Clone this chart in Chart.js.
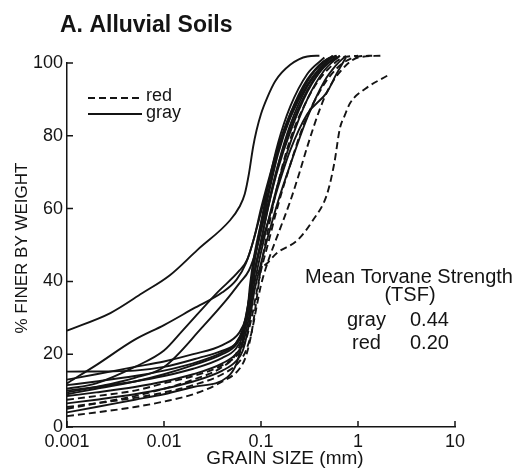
<!DOCTYPE html>
<html>
<head>
<meta charset="utf-8">
<script src="https://cdn.jsdelivr.net/npm/chart.js@4/dist/chart.umd.min.js"></script>
<style>
  html, body { margin: 0; padding: 0; background: #fff; }
  canvas { display: block; }
</style>
</head>
<body>
<canvas id="grainChart" width="519" height="473"></canvas>
<script>
const xTickValues = [0.001, 0.01, 0.1, 1, 10];
const xTickLabels = ["0.001", "0.01", "0.1", "1", "10"];
const yTickValues = [0, 20, 40, 60, 80, 100];
const yTickLabels = ["0", "20", "40", "60", "80", "100"];

// grain size (mm), percent finer
const gray1 = [[0.001, 26.5], [0.0028, 31.3], [0.006, 36.8], [0.0115, 41.7], [0.022, 48.6], [0.048, 56.8], [0.06, 60.5], [0.068, 64], [0.075, 69.5], [0.083, 77], [0.09, 81.5], [0.1, 86], [0.116, 90.5], [0.14, 95], [0.2, 99.5], [0.3, 101.8], [0.4, 102]];
const gray2 = [[0.001, 12], [0.002, 17], [0.005, 24], [0.01, 28], [0.02, 32.5], [0.04, 37], [0.056, 40.5], [0.07, 45], [0.085, 52], [0.1, 60], [0.12, 68], [0.15, 77], [0.2, 86], [0.3, 95], [0.4, 99.5], [0.55, 102]];
const gray3 = [[0.001, 10.5], [0.002, 12], [0.005, 16.5], [0.01, 21], [0.0157, 26.6], [0.035, 36.8], [0.06, 43], [0.072, 46], [0.085, 52], [0.1, 59], [0.12, 67], [0.15, 76], [0.2, 85], [0.3, 94], [0.4, 98.5], [0.55, 102]];
const gray4 = [[0.001, 9.5], [0.002, 11], [0.005, 13.5], [0.01, 16.5], [0.025, 27.5], [0.044, 34.9], [0.06, 39.5], [0.075, 43], [0.09, 49], [0.1, 54], [0.12, 62], [0.15, 72], [0.2, 82], [0.3, 92.5], [0.4, 97.5], [0.6, 102]];
const gray5 = [[0.001, 15.2], [0.005, 15.5], [0.01, 16.5], [0.023, 19], [0.04, 21], [0.055, 23], [0.065, 26.5], [0.075, 33], [0.085, 42], [0.1, 51], [0.12, 61], [0.15, 72], [0.2, 83], [0.3, 93.5], [0.4, 98], [0.55, 101.8]];
const gray6 = [[0.001, 11.5], [0.002, 12.5], [0.005, 14], [0.01, 15.5], [0.02, 17.5], [0.04, 20.5], [0.055, 23], [0.065, 27], [0.075, 35], [0.085, 45], [0.1, 54], [0.12, 64], [0.15, 75], [0.2, 85], [0.3, 95], [0.45, 100.5], [0.6, 102]];
const gray7 = [[0.001, 10], [0.002, 11], [0.005, 12.5], [0.01, 14], [0.02, 16], [0.04, 19], [0.055, 21.5], [0.065, 25], [0.075, 32], [0.085, 42], [0.1, 51], [0.12, 61], [0.15, 71], [0.2, 81], [0.3, 92], [0.45, 99], [0.65, 102]];
const gray8 = [[0.001, 8.5], [0.002, 9.5], [0.005, 11], [0.01, 12.5], [0.02, 14.5], [0.04, 17.5], [0.055, 20], [0.065, 23], [0.075, 30], [0.085, 39], [0.1, 48], [0.12, 57], [0.15, 67], [0.2, 78], [0.3, 90], [0.45, 98], [0.65, 102]];
const gray9 = [[0.001, 6.5], [0.002, 7.5], [0.005, 9], [0.01, 10.5], [0.02, 12.5], [0.04, 15.5], [0.055, 18], [0.065, 21], [0.075, 28], [0.085, 37], [0.1, 45], [0.12, 53], [0.15, 62], [0.2, 72], [0.3, 85], [0.45, 95], [0.6, 99.5], [0.75, 102]];
const gray10 = [[0.001, 4], [0.002, 5.5], [0.005, 7.5], [0.01, 9], [0.02, 11], [0.045, 13.7], [0.056, 17.5], [0.065, 24], [0.072, 31], [0.077, 39], [0.085, 47], [0.1, 56], [0.12, 65], [0.15, 76], [0.2, 86], [0.3, 95.5], [0.45, 100.5], [0.6, 102]];
const gray11 = [[0.001, 13], [0.002, 14.5], [0.005, 16.5], [0.01, 18], [0.02, 20], [0.04, 22.5], [0.06, 26], [0.07, 30], [0.08, 38], [0.09, 45], [0.1, 50], [0.12, 57], [0.15, 66], [0.2, 76], [0.3, 86], [0.48, 92], [0.6, 97], [0.75, 101.5]];
const gray12 = [[0.001, 9], [0.002, 10.5], [0.005, 12.5], [0.01, 14.5], [0.02, 17], [0.04, 20], [0.055, 22.5], [0.065, 26], [0.075, 35], [0.085, 45], [0.1, 56], [0.12, 67], [0.15, 78], [0.2, 88], [0.3, 97], [0.45, 101.5]];

const red1 = [[0.001, 5], [0.002, 6.5], [0.005, 8.5], [0.01, 10.5], [0.02, 13], [0.04, 16.5], [0.055, 20], [0.065, 25], [0.075, 33], [0.085, 40], [0.1, 43.5], [0.116, 45], [0.146, 47.8], [0.237, 51.3], [0.343, 56.8], [0.48, 64], [0.57, 72.5], [0.65, 82], [0.73, 85.6], [0.83, 89], [1.2, 93], [2, 96.5]];
const red2 = [[0.001, 5.5], [0.002, 6.5], [0.005, 8], [0.01, 9.5], [0.02, 11.5], [0.04, 14.5], [0.06, 18], [0.07, 21], [0.08, 26], [0.09, 33], [0.1, 39], [0.12, 46], [0.15, 53], [0.2, 62], [0.25, 70], [0.3, 77], [0.4, 87], [0.5, 93], [0.7, 98.5], [1, 101.5], [1.7, 102]];
const red3 = [[0.001, 7.5], [0.002, 8.5], [0.005, 10], [0.01, 12], [0.02, 14], [0.04, 17], [0.06, 20.5], [0.07, 24], [0.08, 30], [0.09, 37], [0.1, 43], [0.12, 51], [0.15, 61], [0.2, 72], [0.25, 80], [0.3, 85.5], [0.4, 92], [0.5, 96], [0.7, 100], [1, 101.8], [1.4, 102]];
const red4 = [[0.001, 3], [0.002, 4], [0.005, 5.5], [0.01, 7], [0.02, 9], [0.04, 12.5], [0.06, 16], [0.07, 19.5], [0.08, 26], [0.09, 35], [0.1, 44], [0.12, 55], [0.15, 67], [0.2, 79], [0.3, 90], [0.4, 95.5], [0.5, 98.5], [0.7, 101.5], [1, 102]];

const grayCurves = [gray1, gray2, gray3, gray4, gray5, gray6, gray7, gray8, gray9, gray10, gray11, gray12];
const redCurves = [red1, red2, red3, red4];

const ink = "#141414";
const textFont = '"Liberation Sans", Arial, sans-serif';

function makeDataset(points, dashed) {
  return {
    data: points.map(([x, y]) => ({ x, y })),
    borderColor: ink,
    borderWidth: 1.9,
    borderDash: dashed ? [7, 4] : [],
    pointRadius: 0,
    fill: false,
    cubicInterpolationMode: "monotone",
    clip: false
  };
}

const annotationPlugin = {
  id: "annotationPlugin",
  afterDraw(chart) {
    const { ctx } = chart;
    const xScale = chart.scales.x;
    const yScale = chart.scales.y;

    ctx.save();
    ctx.strokeStyle = ink;
    ctx.fillStyle = ink;
    ctx.lineWidth = 1.5;

    // inward tick marks
    ctx.beginPath();
    xTickValues.forEach((value) => {
      const px = xScale.getPixelForValue(value);
      ctx.moveTo(px, yScale.bottom);
      ctx.lineTo(px, yScale.bottom - 6);
    });
    yTickValues.forEach((value) => {
      const py = yScale.getPixelForValue(value);
      ctx.moveTo(xScale.left, py);
      ctx.lineTo(xScale.left + 6, py);
    });
    ctx.stroke();

    // title
    ctx.textAlign = "left";
    ctx.textBaseline = "alphabetic";
    ctx.font = `bold 23px ${textFont}`;
    ctx.fillText("A. Alluvial Soils", 60, 32);

    // legend
    ctx.lineWidth = 1.8;
    ctx.setLineDash([7, 4]);
    ctx.beginPath();
    ctx.moveTo(88, 98);
    ctx.lineTo(142, 98);
    ctx.stroke();
    ctx.setLineDash([]);
    ctx.beginPath();
    ctx.moveTo(88, 114);
    ctx.lineTo(142, 114);
    ctx.stroke();
    ctx.font = `18px ${textFont}`;
    ctx.fillText("red", 146, 101);
    ctx.fillText("gray", 146, 118);

    // torvane strength note
    ctx.font = `20px ${textFont}`;
    ctx.textAlign = "center";
    ctx.fillText("Mean Torvane Strength", 409, 283);
    ctx.fillText("(TSF)", 410, 301);
    ctx.textAlign = "left";
    ctx.fillText("gray", 347, 326);
    ctx.fillText("0.44", 410, 326);
    ctx.fillText("red", 352, 349);
    ctx.fillText("0.20", 410, 349);

    // axis titles
    ctx.font = `19px ${textFont}`;
    ctx.textAlign = "center";
    ctx.fillText("GRAIN SIZE (mm)", 285, 464);
    ctx.translate(27, 248);
    ctx.rotate(-Math.PI / 2);
    ctx.font = `17px ${textFont}`;
    ctx.fillText("% FINER BY WEIGHT", 0, 0);
    ctx.restore();
  }
};

new Chart(document.getElementById("grainChart"), {
  type: "line",
  data: {
    datasets: [
      ...grayCurves.map((curve) => makeDataset(curve, false)),
      ...redCurves.map((curve) => makeDataset(curve, true))
    ]
  },
  options: {
    responsive: false,
    animation: false,
    layout: { padding: { top: 63, right: 64, bottom: 0, left: 0 } },
    plugins: {
      legend: { display: false },
      tooltip: { enabled: false },
      title: { display: false }
    },
    scales: {
      x: {
        type: "logarithmic",
        min: 0.001,
        max: 10,
        afterBuildTicks(scale) {
          scale.ticks = xTickValues.map((value) => ({ value }));
        },
        afterFit(scale) {
          scale.height = 46;
        },
        grid: { display: false, drawTicks: false },
        border: { display: true, color: ink, width: 1.5 },
        ticks: {
          autoSkip: false,
          maxRotation: 0,
          padding: 4,
          color: ink,
          font: { family: textFont, size: 18 },
          callback: (value, index) => xTickLabels[index]
        }
      },
      y: {
        type: "linear",
        min: 0,
        max: 100,
        afterBuildTicks(scale) {
          scale.ticks = yTickValues.map((value) => ({ value }));
        },
        afterFit(scale) {
          scale.width = 67;
        },
        grid: { display: false, drawTicks: false },
        border: { display: true, color: ink, width: 1.5 },
        ticks: {
          padding: 4,
          color: ink,
          font: { family: textFont, size: 18 },
          callback: (value, index) => yTickLabels[index]
        }
      }
    }
  },
  plugins: [annotationPlugin]
});
</script>
</body>
</html>
